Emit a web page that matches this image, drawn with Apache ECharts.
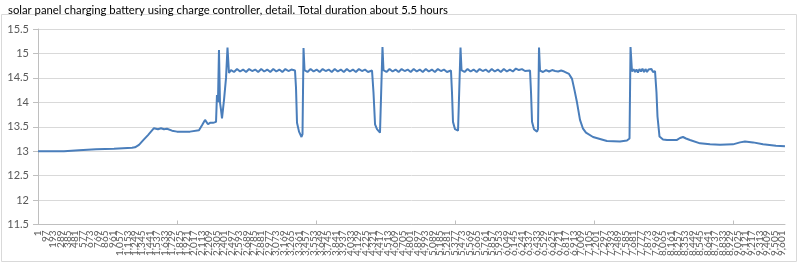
<!DOCTYPE html>
<html>
<head>
<meta charset="utf-8">
<script src="https://cdn.jsdelivr.net/npm/echarts@6/dist/echarts.min.js"></script>
<style>html,body{margin:0;padding:0;background:#fff;}#c{width:800px;height:266px;}</style>
</head>
<body>
<div id="c"></div>
<script>
// Sample index (1-based) of each read point
const sampleIndex = [
  1, 336, 349, 530, 543, 749, 762, 981, 994, 1214, 1226, 1252, 1304, 1356, 1420, 1497,
  1549, 1588, 1626, 1665, 1730, 1794, 1962, 1975, 2078, 2117, 2156, 2194, 2220, 2259, 2298,
  2310, 2323, 2336, 2349, 2362, 2375, 2401, 2427, 2446, 2465, 2491,
  2530, 2569, 2608, 2647, 2686, 2725, 2764, 2803, 2842, 2881, 2920, 2959, 2998, 3037, 3076, 3115, 3154, 3193, 3232, 3271, 3317,
  3330, 3343, 3369, 3401, 3414, 3427, 3440,
  3479, 3518, 3557, 3596, 3635, 3674, 3713, 3752, 3791, 3830, 3869, 3908, 3947, 3986, 4025, 4064, 4103, 4142, 4181, 4220, 4259, 4311,
  4330, 4350, 4375, 4414, 4433, 4446, 4459,
  4498, 4537, 4576, 4615, 4654, 4693, 4732, 4771, 4810, 4849, 4888, 4927, 4966, 5005, 5044, 5083, 5122, 5161, 5200, 5239, 5278, 5330,
  5343, 5356, 5382, 5421, 5440, 5453, 5466,
  5505, 5544, 5583, 5622, 5661, 5700, 5739, 5778, 5817, 5856, 5895, 5934, 5973, 6012, 6051, 6090, 6129, 6168, 6207, 6246, 6285, 6350,
  6363, 6376, 6401, 6440, 6453, 6466, 6479,
  6518, 6557, 6596, 6635, 6674, 6713, 6752, 6791, 6814, 6853, 6892, 6924, 6956, 6995, 7034, 7072, 7163, 7253, 7343, 7511, 7601, 7634, 7647, 7666,
  7686, 7705, 7724, 7743, 7762, 7782, 7801, 7821, 7840, 7860, 7879, 7898, 7917, 7937, 7963,
  7982, 7995, 8021, 8066, 8118, 8247, 8285, 8324, 8363, 8414,
  8544, 8673, 8802, 8969, 9060, 9124, 9228, 9357, 9524, 9640
];
// Battery voltage at each read point
const voltage = [
  13.00, 13.00, 13.02, 13.02, 13.04, 13.04, 13.05, 13.05, 13.07, 13.07, 13.08, 13.08, 13.13, 13.22, 13.33, 13.47,
  13.45, 13.47, 13.45, 13.46, 13.42, 13.40, 13.40, 13.43, 13.43, 13.53, 13.64, 13.55, 13.58, 13.58, 13.60,
  14.15, 14.00, 15.07, 14.00, 13.85, 13.67, 14.05, 14.50, 15.12, 14.60, 14.66,
  14.62, 14.68, 14.63, 14.67, 14.62, 14.68, 14.64, 14.67, 14.62, 14.68, 14.63, 14.67, 14.62, 14.68, 14.63, 14.67, 14.62, 14.68, 14.64, 14.67, 14.65,
  14.30, 13.58, 13.40, 13.29, 13.35, 15.11, 14.66,
  14.62, 14.68, 14.63, 14.67, 14.62, 14.68, 14.64, 14.67, 14.62, 14.68, 14.63, 14.67, 14.62, 14.68, 14.63, 14.67, 14.62, 14.68, 14.64, 14.67, 14.62, 14.65,
  14.20, 13.55, 13.45, 13.38, 13.40, 15.13, 14.66,
  14.62, 14.68, 14.63, 14.67, 14.62, 14.68, 14.64, 14.67, 14.62, 14.68, 14.63, 14.67, 14.62, 14.68, 14.63, 14.67, 14.62, 14.68, 14.64, 14.67, 14.62, 14.65,
  14.20, 13.60, 13.45, 13.42, 13.45, 15.12, 14.66,
  14.62, 14.68, 14.63, 14.67, 14.62, 14.68, 14.64, 14.67, 14.62, 14.68, 14.63, 14.67, 14.62, 14.68, 14.63, 14.67, 14.63, 14.69, 14.66, 14.68, 14.64, 14.65,
  14.20, 13.60, 13.45, 13.40, 13.45, 15.12, 14.65,
  14.62, 14.66, 14.63, 14.66, 14.64, 14.63, 14.65, 14.63, 14.62, 14.58, 14.48, 14.25, 14.00, 13.64, 13.46, 13.38, 13.29, 13.25, 13.21, 13.20, 13.22, 13.26, 15.13, 14.63,
  14.68, 14.62, 14.67, 14.61, 14.68, 14.63, 14.69, 14.62, 14.68, 14.62, 14.67, 14.63, 14.68, 14.62, 14.64,
  14.20, 13.71, 13.30, 13.24, 13.23, 13.23, 13.27, 13.29, 13.26, 13.23,
  13.16, 13.14, 13.13, 13.14, 13.18, 13.20, 13.18, 13.14, 13.11, 13.10
];
// Category tick labels shown on the x axis
const xTickLabels = [
  1,97,193,289,385,481,577,673,769,865,961,1057,1153,1249,1345,1441,1537,1633,1729,1825,
  1921,2017,2113,2209,2305,2401,2497,2593,2689,2785,2881,2977,3073,3169,3265,3361,3457,3553,3649,3745,
  3841,3937,4033,4129,4225,4321,4417,4513,4609,4705,4801,4897,4993,5089,5185,5281,5377,5473,5569,5665,
  5761,5857,5953,6049,6145,6241,6337,6433,6529,6625,6721,6817,6913,7009,7105,7201,7297,7393,7489,7585,
  7681,7777,7873,7969,8065,8161,8257,8353,8449,8545,8641,8737,8833,8929,9025,9121,9217,9313,9409,9505,9601
];
const xTickMarks = [1794.5, 3589.5, 5384.5, 7179.5, 8974.5];
const sampleCount = 9640;
const titleText = 'solar panel charging battery using charge controller, detail. Total duration about 5.5 hours';

const points = sampleIndex.map((x, i) => [x, voltage[i]]);
const labelsA = xTickLabels.filter((v, i) => i % 2 === 0);
const labelsB = xTickLabels.filter((v, i) => i % 2 === 1);
const chart = echarts.init(document.getElementById('c'), null, {renderer: 'canvas'});
const FONT = 'Lato';
const labelStyle = {rotate: 90, fontSize: 10, color: '#595959', margin: 6, fontFamily: FONT, hideOverlap: false};
chart.setOption({
  animation: false,
  title: {
    text: titleText, left: 3, top: 0,
    textStyle: {fontSize: 11.3, fontWeight: 'normal', color: '#000', fontFamily: FONT}
  },
  graphic: [{
    type: 'rect', shape: {x: 1.5, y: 14.5, width: 795, height: 247},
    style: {fill: null, stroke: '#d9d9d9', lineWidth: 1}, silent: true, z: -1
  }],
  grid: {left: 38, right: 15, top: 29, bottom: 41.5, containLabel: false},
  xAxis: [{
    type: 'value', min: 0.5, max: sampleCount + 0.5, position: 'bottom',
    axisLine: {show: true, lineStyle: {color: '#bfbfbf', width: 1}},
    axisTick: {show: true, inside: true, length: 4, customValues: xTickMarks, lineStyle: {color: '#bfbfbf'}},
    splitLine: {show: false},
    axisLabel: Object.assign({customValues: labelsA}, labelStyle)
  }, {
    type: 'value', min: 0.5, max: sampleCount + 0.5, position: 'bottom', offset: 0,
    axisLine: {show: false}, axisTick: {show: false}, splitLine: {show: false},
    axisLabel: Object.assign({customValues: labelsB}, labelStyle)
  }],
  yAxis: {
    type: 'value', min: 11.5, max: 15.5, interval: 0.5,
    axisLine: {show: true, lineStyle: {color: '#bfbfbf'}},
    axisTick: {show: true, length: 5, lineStyle: {color: '#bfbfbf'}},
    splitLine: {lineStyle: {color: '#d9d9d9', width: 1}},
    axisLabel: {fontSize: 11, color: '#595959', margin: 9, fontFamily: FONT}
  },
  series: [{
    type: 'line', data: points, showSymbol: false, symbol: 'none', xAxisIndex: 0,
    lineStyle: {color: '#4a7ebb', width: 2}, itemStyle: {color: '#4a7ebb'}
  }]
});
</script>
</body>
</html>
